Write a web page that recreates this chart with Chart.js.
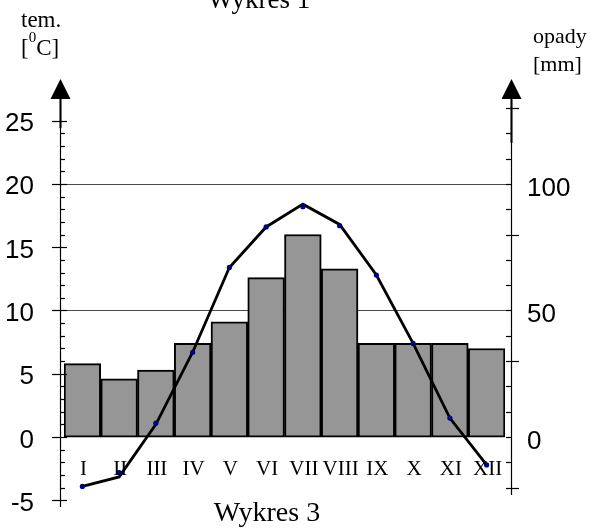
<!DOCTYPE html>
<html><head><meta charset="utf-8">
<script src="https://cdn.jsdelivr.net/npm/chart.js@4"></script>
<style>html,body{margin:0;padding:0;background:#fff;overflow:hidden}canvas{display:block}</style>
</head><body>
<canvas id="c" width="591" height="529"></canvas>
<script>
const months = ['I','II','III','IV','V','VI','VII','VIII','IX','X','XI','XII'];
const precipitation = [29, 23, 26.5, 37, 45.5, 63, 80, 66.5, 37, 37, 37, 35];
const temperature = [-3.9, -2.8, 1.1, 6.7, 13.4, 16.6, 18.2, 16.7, 12.8, 7.4, 1.5, -2.2];
const temperatureCurve = [-3.9, -3.15, 1.0, 6.7, 13.4, 16.6, 18.4, 16.8, 12.8, 7.4, 1.5, -2.2];
const tempTickLabels = [-5, 0, 5, 10, 15, 20, 25];
const rainTickLabels = [0, 50, 100];
const gridValues = [10, 20];
const titleTop = 'Wykres 1';
const titleBottom = 'Wykres 3';
const tempTitle = ['tem.', '[', '0', 'C]'];
const rainTitle = ['opady', '[mm]'];

const SERIF = '"Liberation Serif", "Times New Roman", serif';
const SANS = '"Liberation Sans", Arial, sans-serif';

const decor = {
  id: 'decor',
  beforeDraw(chart) {
    const ctx = chart.ctx;
    ctx.save(); ctx.fillStyle = '#fff'; ctx.fillRect(0, 0, chart.width, chart.height); ctx.restore();
  },
  beforeDatasetsDraw(chart) {
    const ctx = chart.ctx, y = chart.scales.y;
    ctx.save();
    ctx.strokeStyle = '#4a4a4a'; ctx.lineWidth = 1;
    gridValues.forEach(v => {
      const py = Math.round(y.getPixelForValue(v)) + 0.5;
      ctx.beginPath(); ctx.moveTo(60, py); ctx.lineTo(512, py); ctx.stroke();
    });
    ctx.restore();
  },
  afterDraw(chart) {
    const ctx = chart.ctx, y = chart.scales.y, y2 = chart.scales.y2, x = chart.scales.x;
    ctx.save();
    ctx.strokeStyle = '#000'; ctx.fillStyle = '#000';
    const LX = 60.5, RX = 511.5;
    ctx.lineWidth = 1.2;
    ctx.beginPath(); ctx.moveTo(LX, 99); ctx.lineTo(LX, 507); ctx.stroke();
    ctx.beginPath(); ctx.moveTo(RX, 99); ctx.lineTo(RX, 495); ctx.stroke();
    ctx.lineWidth = 2;
    ctx.beginPath(); ctx.moveTo(LX, 99); ctx.lineTo(LX, 128); ctx.stroke();
    ctx.beginPath(); ctx.moveTo(RX, 99); ctx.lineTo(RX, 143); ctx.stroke();
    [LX, RX].forEach(ax => {
      ctx.beginPath(); ctx.moveTo(ax, 79); ctx.lineTo(ax - 10, 99); ctx.lineTo(ax + 10, 99); ctx.closePath(); ctx.fill();
    });
    ctx.lineWidth = 1.2;
    for (let v = -5; v <= 25; v++) {
      const py = Math.round(y.getPixelForValue(v)) + 0.5;
      ctx.beginPath();
      if (v % 5 === 0) { ctx.moveTo(52, py); ctx.lineTo(67, py); }
      else { ctx.moveTo(LX, py); ctx.lineTo(65, py); }
      ctx.stroke();
    }
    for (let v = -20; v <= 130; v += 10) {
      const py = Math.round(y2.getPixelForValue(v)) + 0.5;
      ctx.beginPath();
      if ((v + 20) % 50 === 0) { ctx.moveTo(506, py); ctx.lineTo(519, py); }
      else { ctx.moveTo(506, py); ctx.lineTo(RX, py); }
      ctx.stroke();
    }
    ctx.font = '26px ' + SANS;
    ctx.textAlign = 'right'; ctx.textBaseline = 'alphabetic';
    tempTickLabels.forEach(v => ctx.fillText(String(v), 34, y.getPixelForValue(v) + 10.5));
    ctx.textAlign = 'left';
    rainTickLabels.forEach(v => ctx.fillText(String(v), 527, y2.getPixelForValue(v) + 12));
    ctx.font = '21px ' + SERIF;
    ctx.textAlign = 'center';
    months.forEach((m, i) => ctx.fillText(m, x.getPixelForValue(i) + 1, 475));
    ctx.font = '27px ' + SERIF;
    ctx.fillText(titleTop, 259, 8);
    ctx.font = '28px ' + SERIF;
    ctx.fillText(titleBottom, 267, 521);
    ctx.textAlign = 'left';
    ctx.font = '23px ' + SERIF;
    ctx.fillText(tempTitle[0], 21, 27);
    let tx = 21;
    ctx.fillText(tempTitle[1], tx, 55); tx += ctx.measureText(tempTitle[1]).width;
    ctx.font = '15px ' + SERIF;
    ctx.fillText(tempTitle[2], tx, 42); tx += ctx.measureText(tempTitle[2]).width;
    ctx.font = '23px ' + SERIF;
    ctx.fillText(tempTitle[3], tx, 55);
    ctx.font = '22px ' + SERIF;
    ctx.fillText(rainTitle[0], 533, 43);
    ctx.fillText(rainTitle[1], 533, 71);
    ctx.restore();
  }
};

new Chart(document.getElementById('c'), {
  data: {
    labels: months,
    datasets: [
      { type: 'line', data: temperature, yAxisID: 'y', showLine: false, pointRadius: 2.6,
        pointBackgroundColor: '#000080', pointBorderWidth: 0, order: 0 },
      { type: 'line', data: temperatureCurve, yAxisID: 'y', borderColor: '#000', borderWidth: 2.8,
        pointRadius: 0, tension: 0, fill: false, order: 1 },
      { type: 'bar', data: precipitation, yAxisID: 'y2', backgroundColor: '#969696', borderColor: '#000',
        borderWidth: 2, borderSkipped: false, barPercentage: 1, categoryPercentage: 1, order: 2 }
    ]
  },
  options: {
    responsive: false, animation: false, devicePixelRatio: 1,
    layout: { padding: { left: 64, right: 86, top: 70, bottom: 16 } },
    plugins: { legend: { display: false }, tooltip: { enabled: false }, title: { display: false } },
    scales: {
      x: { type: 'category', display: false, offset: true },
      y: { min: -6, max: 29, display: false },
      y2: { min: -30, max: 145, display: false }
    }
  },
  plugins: [decor]
});
</script>
</body></html>
